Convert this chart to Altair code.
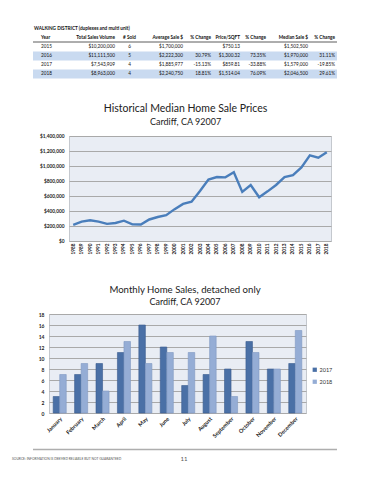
import altair as alt
import pandas as pd

FONT = "Lato"

# ---------------- table data ----------------
table_title = "WALKING DISTRICT (duplexes and multi unit)"
table_headers = ["Year", "Total Sales Volume", "# Sold", "Average Sale $", "% Change",
                 "Price/SQFT", "% Change", "Median Sale $", "% Change"]
years_t = ["2015", "2016", "2017", "2018"]
total_volume = ["$10,200,000", "$11,111,500", "$7,543,909", "$8,963,000"]
num_sold = ["6", "5", "4", "4"]
avg_sale = ["$1,700,000", "$2,222,300", "$1,885,977", "$2,240,750"]
avg_change = ["", "30.79%", "-15.13%", "18.81%"]
price_sqft = ["$750.13", "$1,300.32", "$859.81", "$1,514.04"]
sqft_change = ["", "73.35%", "-33.88%", "76.09%"]
median_sale = ["$1,502,500", "$1,970,000", "$1,579,000", "$2,046,500"]
median_change = ["", "31.11%", "-19.85%", "29.61%"]
shaded_years = ["2016", "2018"]

# ---------------- line chart data ----------------
line_title = "Historical Median Home Sale Prices"
line_subtitle = "Cardiff, CA 92007"
hist_years = ["1988", "1989", "1990", "1991", "1992", "1993", "1994", "1995", "1996", "1997",
              "1998", "1999", "2000", "2001", "2002", "2003", "2004", "2005", "2006", "2007",
              "2008", "2009", "2010", "2011", "2012", "2013", "2014", "2015", "2016", "2017", "2018"]
hist_median = [215000, 258000, 277000, 258000, 228000, 240000, 271000, 222000, 220000, 287000,
               320000, 345000, 425000, 495000, 524000, 668000, 820000, 853000, 849000, 916000,
               655000, 747000, 583000, 662000, 747000, 853000, 877000, 980000, 1143000, 1111000, 1184000]
y_ticks_line = [0, 200000, 400000, 600000, 800000, 1000000, 1200000, 1400000]

# ---------------- bar chart data ----------------
bar_title = "Monthly Home Sales, detached only"
bar_subtitle = "Cardiff, CA 92007"
months = ["January", "February", "March", "April", "May", "June", "July", "August",
          "September", "October", "November", "December"]
sales_2017 = [3, 7, 9, 11, 16, 12, 5, 7, 8, 13, 8, 9]
sales_2018 = [7, 9, 4, 13, 9, 11, 11, 14, 3, 11, 8, 15]
bar_years = ["2017", "2018"]
y_ticks_bar = [0, 2, 4, 6, 8, 10, 12, 14, 16, 18]

# ---------------- footer ----------------
footer_note = "SOURCE: INFORMATION IS DEEMED RELIABLE BUT NOT GUARANTEED"
page_number = "11"

# ================= layout constants =================
TABLE_W, TABLE_H = 340, 95
col_anchor = [33, 107, 121.5, 175, 203, 232, 258, 300, 327]
col_align = ["left", "right", "center", "right", "right", "right", "right", "right", "right"]
title_anchor = 26
row_keys = ["title", "header"] + years_t

# ---------------- table panel ----------------
table_cols = [years_t, total_volume, num_sold, avg_sale, avg_change,
              price_sqft, sqft_change, median_sale, median_change]
cells = [dict(row="title", x=title_anchor, text=table_title, align="left", weight="bold")]
for ci, h in enumerate(table_headers):
    cells.append(dict(row="header", x=col_anchor[ci], text=h, align=col_align[ci], weight="bold"))
for ci, col in enumerate(table_cols):
    for ri, v in enumerate(col):
        cells.append(dict(row=years_t[ri], x=col_anchor[ci], text=v, align=col_align[ci], weight="normal"))
cells_df = pd.DataFrame(cells)

xs_t = alt.Scale(domain=[0, TABLE_W], range=[0, TABLE_W])
ys_t = alt.Scale(type="band", domain=row_keys, range=[16.5, 70.5], paddingInner=0, paddingOuter=0)

text_layers = []
for al in ["left", "center", "right"]:
    for wt in ["bold", "normal"]:
        text_layers.append(
            alt.Chart(cells_df)
            .transform_filter(f"datum.align == '{al}' && datum.weight == '{wt}'")
            .mark_text(align=al, baseline="middle", font=FONT, fontSize=4.7,
                       fontWeight=wt, color="#111")
            .encode(x=alt.X("x:Q", scale=xs_t, axis=None),
                    y=alt.Y("row:N", scale=ys_t, axis=None),
                    text="text:N")
        )

shade = (
    alt.Chart(pd.DataFrame({"row": shaded_years}))
    .mark_rect(color="#c9daf0")
    .encode(x=alt.XDatum(25, type="quantitative", scale=xs_t, axis=None),
            x2=alt.X2Datum(329),
            y=alt.Y("row:N", scale=ys_t, axis=None))
)
underline = (
    alt.Chart(pd.DataFrame({"row": ["header"]}))
    .mark_rule(color="#333", strokeWidth=0.8, yOffset=4)
    .encode(x=alt.XDatum(25, type="quantitative", scale=xs_t, axis=None),
            x2=alt.X2Datum(329),
            y=alt.Y("row:N", scale=ys_t, axis=None))
)
table = alt.layer(shade, underline, *text_layers).properties(width=TABLE_W, height=TABLE_H)


def spacer(w, h):
    return (
        alt.Chart(pd.DataFrame({"a": [0]}))
        .mark_rule(strokeWidth=0, opacity=0)
        .encode(x=alt.value(0), y=alt.value(0), y2=alt.value(h))
        .properties(width=w, height=h)
    )


plot_bg = alt.ViewBackground(fill="#e9edf4", stroke="#c4c8ce", strokeWidth=1)

# ---------------- line chart ----------------
hist_df = pd.DataFrame({"year": hist_years, "median": hist_median})
line = (
    alt.Chart(hist_df)
    .mark_line(color="#4a7ebb", strokeWidth=2.4)
    .encode(
        x=alt.X("year:O", axis=alt.Axis(title=None, labelAngle=270, labelAlign="right",
                                         labelBaseline="middle", labelFontSize=4.7, labelFont=FONT,
                                         labelFontWeight="bold", labelColor="#222", ticks=False,
                                         domain=False, labelPadding=2, grid=False,
                                         labelOverlap=False)),
        y=alt.Y("median:Q", scale=alt.Scale(domain=[0, 1400000], nice=False),
                axis=alt.Axis(title=None, values=y_ticks_line, format="$,.0f", labelFontSize=4.8,
                              labelFont=FONT, labelFontWeight="bold", labelColor="#222",
                              ticks=False, domain=False, labelPadding=5, labelFlush=False,
                              gridColor="#a9a9a9", gridWidth=1)),
    )
    .properties(
        width=262, height=105, view=plot_bg,
        title=alt.TitleParams(text=line_title, subtitle=line_subtitle, font=FONT, subtitleFont=FONT,
                              fontSize=10.5, subtitleFontSize=9, fontWeight="normal",
                              color="#222", subtitleColor="#222", anchor="middle", frame="bounds",
                              offset=6.5, subtitlePadding=3),
    )
)

# ---------------- bar chart ----------------
bar_df = pd.DataFrame({
    "month": months * 2,
    "year": [bar_years[0]] * 12 + [bar_years[1]] * 12,
    "sales": sales_2017 + sales_2018,
})
bar = (
    alt.Chart(bar_df)
    .mark_bar(strokeWidth=0.6)
    .encode(
        x=alt.X("month:N", sort=months,
                scale=alt.Scale(paddingInner=0.39, paddingOuter=0.195),
                axis=alt.Axis(title=None, labelAngle=315, labelFontSize=5.5, labelFont=FONT,
                              labelFontWeight="bold", labelColor="#222", ticks=False,
                              domain=False, labelPadding=3, labelOverlap=False)),
        xOffset=alt.XOffset("year:N", sort=bar_years),
        y=alt.Y("sales:Q", scale=alt.Scale(domain=[0, 18], nice=False),
                axis=alt.Axis(title=None, values=y_ticks_bar, labelFontSize=5, labelFont=FONT,
                              labelFontWeight="bold", labelColor="#222", ticks=False,
                              domain=False, labelPadding=5, labelFlush=False,
                              gridColor="#a9a9a9", gridWidth=1)),
        fill=alt.Fill("year:N", sort=bar_years,
                      scale=alt.Scale(domain=bar_years, range=["#4a70a6", "#95add5"]),
                      legend=alt.Legend(orient="none", legendX=304, legendY=359, title=None,
                                        symbolType="square", symbolSize=18, symbolStrokeWidth=0,
                                        labelFontSize=5.5, labelFont=FONT, labelColor="#333",
                                        rowPadding=5, padding=0, labelOffset=2)),
        stroke=alt.Stroke("year:N", scale=alt.Scale(domain=bar_years, range=["#3b5d8f", "#7f98c2"]),
                          legend=None),
    )
    .properties(
        width=257, height=99, view=plot_bg,
        title=alt.TitleParams(text=bar_title, subtitle=bar_subtitle, font=FONT, subtitleFont=FONT,
                              fontSize=9.6, subtitleFontSize=9, fontWeight="normal",
                              color="#222", subtitleColor="#222", anchor="middle", dx=7.5,
                              offset=5, subtitlePadding=3),
    )
)

# ---------------- footer (separator line + note + page number) ----------------
footer_rows = ["sep", "note"]
fx = alt.Scale(domain=[0, 340], range=[0, 340])
fy = alt.Scale(type="band", domain=footer_rows, range=[0, 18], paddingInner=0, paddingOuter=0)
footer_df = pd.DataFrame({"row": ["note", "note"], "text": [footer_note, page_number],
                          "x": [4, 176], "size": ["small", "page"]})
footer_sep = (
    alt.Chart(pd.DataFrame({"row": ["sep"]}))
    .mark_tick(color="#8c8c8c", thickness=1.6, orient="horizontal", size=304)
    .encode(x=alt.XDatum(177, type="quantitative", scale=fx, axis=None),
            y=alt.Y("row:N", scale=fy, axis=None))
)
footer_text = (
    alt.Chart(footer_df).transform_filter("datum.size == 'small'")
    .mark_text(align="left", baseline="middle", font=FONT, fontSize=3.3, color="#555")
    .encode(x=alt.X("x:Q", scale=fx, axis=None), y=alt.Y("row:N", scale=fy, axis=None), text="text:N")
)
footer_page = (
    alt.Chart(footer_df).transform_filter("datum.size == 'page'")
    .mark_text(align="center", baseline="middle", font=FONT, fontSize=6, color="#555")
    .encode(x=alt.X("x:Q", scale=fx, axis=None), y=alt.Y("row:N", scale=fy, axis=None), text="text:N")
)
footer = alt.layer(footer_sep, footer_text, footer_page).properties(width=340, height=20)

chart = (
    alt.vconcat(
        table,
        alt.hconcat(spacer(30, 148), line, spacing=0),
        alt.hconcat(spacer(29, 131), bar, spacing=0),
        footer,
        spacing=0,
    )
    .properties(padding=0)
    .configure_view(strokeWidth=0)
)

chart.save("out.html", embed_options={"renderer": "svg", "actions": False})
